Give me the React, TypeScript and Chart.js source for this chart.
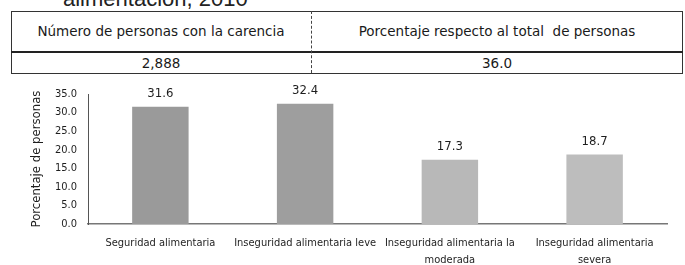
import React, { useEffect, useRef } from "react";
import { Chart, registerables } from "chart.js";

Chart.register(...registerables);

const categories: (string | string[])[] = [
  "Seguridad alimentaria",
  "Inseguridad alimentaria leve",
  ["Inseguridad alimentaria la", "moderada"],
  ["Inseguridad alimentaria", "severa"],
];
const percentages = [31.6, 32.4, 17.3, 18.7];
const barColors = ["#9a9a9a", "#9e9e9e", "#b8b8b8", "#bdbdbd"];
const yTicks = [0, 5, 10, 15, 20, 25, 30, 35];
const tableHeaders = ["Número de personas con la carencia", "Porcentaje respecto al total  de personas"];
const tableValues = ["2,888", "36.0"];
const titleFragment = "alimentación, 2010";
const yTitle = "Porcentaje de personas";

const NARROW = "'Liberation Sans Narrow', 'DejaVu Sans Condensed', sans-serif";

const valueLabels = {
  id: "valueLabels",
  afterDatasetsDraw(chart: any) {
    const ctx = chart.ctx;
    const meta = chart.getDatasetMeta(0);
    ctx.save();
    ctx.font = `13px ${NARROW}`;
    ctx.fillStyle = "#1e1e1e";
    ctx.textAlign = "center";
    ctx.textBaseline = "middle";
    meta.data.forEach((el: any, i: number) => {
      ctx.fillText(percentages[i].toFixed(1), el.x, el.y - 13);
    });
    ctx.restore();
  },
};

export default function App() {
  const ref = useRef<HTMLCanvasElement>(null);
  useEffect(() => {
    if (!ref.current) return;
    const chart = new Chart(ref.current, {
      type: "bar",
      data: {
        labels: categories,
        datasets: [
          {
            data: percentages,
            backgroundColor: barColors,
            borderWidth: 0,
            barPercentage: 0.39,
            categoryPercentage: 1,
          },
        ],
      },
      options: {
        responsive: false,
        animation: false,
        devicePixelRatio: 1,
        layout: { padding: { top: 94, right: 18, bottom: 0, left: 25 } },
        plugins: { legend: { display: false }, tooltip: { enabled: false } },
        scales: {
          x: {
            grid: { display: false, drawTicks: false },
            border: { display: true, color: "#777", width: 1.5 },
            ticks: {
              color: "#1e1e1e",
              font: { family: NARROW, size: 11, lineHeight: 1.6 },
              padding: 10,
              maxRotation: 0,
              autoSkip: false,
            },
            afterFit: (s: any) => {
              s.height = 41;
            },
          },
          y: {
            min: 0,
            max: 35,
            afterBuildTicks: (s: any) => {
              s.ticks = yTicks.map((v) => ({ value: v }));
            },
            grid: { display: false, drawTicks: false },
            border: { display: true, color: "#555", dash: [2, 2], width: 1 },
            ticks: {
              color: "#1e1e1e",
              font: { family: NARROW, size: 11 },
              padding: 11,
              callback: (v: any) => Number(v).toFixed(1),
            },
            title: {
              display: true,
              text: yTitle,
              color: "#1e1e1e",
              font: { family: NARROW, size: 13 },
            },
            afterFit: (s: any) => {
              s.width = 63;
            },
          },
        },
      },
      plugins: [valueLabels],
    });
    return () => chart.destroy();
  }, []);

  const cell: React.CSSProperties = {
    position: "absolute",
    textAlign: "center",
    color: "#1a1a1a",
    fontFamily: "'DejaVu Sans', sans-serif",
    whiteSpace: "pre",
  };

  return (
    <div
      style={{
        position: "fixed",
        left: 0,
        top: 0,
        width: 685,
        height: 265,
        background: "#ffffff",
        overflow: "hidden",
      }}
    >
      <div
        style={{
          position: "absolute",
          left: 63,
          top: -14,
          fontFamily: "'Liberation Sans', sans-serif",
          fontSize: 22,
          color: "#222",
          whiteSpace: "pre",
        }}
      >
        {titleFragment}
      </div>
      <div
        style={{
          position: "absolute",
          left: 11,
          top: 11,
          width: 670,
          height: 61,
          border: "1px solid #333",
          boxSizing: "content-box",
        }}
      />
      <div style={{ position: "absolute", left: 11, top: 51, width: 672, height: 0, borderTop: "2px solid #222" }} />
      <div style={{ position: "absolute", left: 311, top: 11, width: 0, height: 62, borderLeft: "1px dashed #444" }} />
      <div style={{ ...cell, left: 11, width: 300, top: 22, fontSize: 13.5, lineHeight: "18px" }}>{tableHeaders[0]}</div>
      <div style={{ ...cell, left: 312, width: 370, top: 22, fontSize: 13.5, lineHeight: "18px" }}>{tableHeaders[1]}</div>
      <div style={{ ...cell, left: 11, width: 300, top: 54, fontSize: 13.5, lineHeight: "18px" }}>{tableValues[0]}</div>
      <div style={{ ...cell, left: 312, width: 370, top: 54, fontSize: 13.5, lineHeight: "18px" }}>{tableValues[1]}</div>
      <canvas ref={ref} width={685} height={265} style={{ position: "absolute", left: 0, top: 0, width: 685, height: 265 }} />
    </div>
  );
}
